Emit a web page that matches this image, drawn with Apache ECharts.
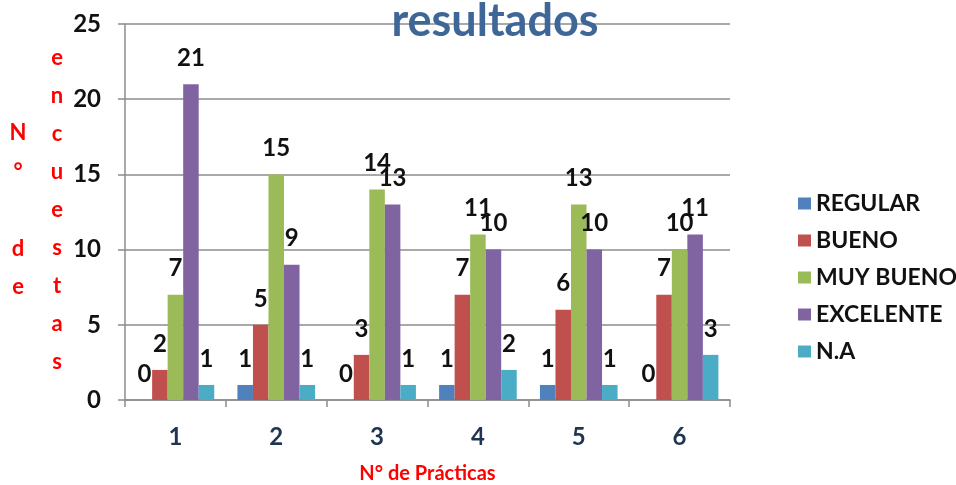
<!DOCTYPE html>
<html><head><meta charset="utf-8">
<script src="https://cdn.jsdelivr.net/npm/echarts@6/dist/echarts.min.js"></script>
<style>html,body{margin:0;padding:0;background:#fff}#c{width:956px;height:485px}</style>
</head><body><div id="c"></div>
<script>
const categories = ['1','2','3','4','5','6'];
const seriesNames = ['REGULAR','BUENO','MUY BUENO','EXCELENTE','N.A'];
const regular = [0,1,0,1,1,0];
const bueno = [2,5,3,7,6,7];
const muyBueno = [7,15,14,11,13,10];
const excelente = [21,9,13,10,10,11];
const na = [1,1,1,2,1,3];
const yTicks = [0,5,10,15,20,25];
const colors = ['#4f81bd','#c0504d','#9bbb59','#8064a2','#4bacc6'];
const FONT = 'Lato, "Open Sans", sans-serif';

const chart = echarts.init(document.getElementById('c'));
const dataSets = [regular,bueno,muyBueno,excelente,na];
chart.setOption({
  animation:false,
  color:colors,
  title:{text:'resultados',left:490,top:-6,textAlign:'center',
    textStyle:{fontFamily:FONT,fontSize:45,fontWeight:'bold',color:'#3e6696'}},
  grid:{left:125,right:226,top:24,bottom:85,outerBoundsMode:'none',containLabel:false},
  legend:{orient:'vertical',left:793,top:187,itemWidth:13,itemHeight:12,itemGap:14,
    icon:'rect',textStyle:{fontFamily:FONT,fontSize:23,fontWeight:'bold',color:'#111'}},
  xAxis:{type:'category',data:categories,
    name:'N° de Prácticas',nameLocation:'middle',nameGap:64,
    nameTextStyle:{fontFamily:FONT,fontSize:20,fontWeight:'bold',color:'#ff0000'},
    axisLine:{lineStyle:{color:'#8c8c8c',width:1.5}},
    axisTick:{show:true,length:7,lineStyle:{color:'#8c8c8c',width:1.5}},
    axisLabel:{margin:25,fontFamily:FONT,fontSize:24,fontWeight:'bold',color:'#1f3550'}},
  yAxis:{type:'value',min:yTicks[0],max:yTicks[yTicks.length-1],interval:5,
    axisLine:{show:true,lineStyle:{color:'#8c8c8c',width:1.5}},
    axisTick:{show:true,length:7,lineStyle:{color:'#8c8c8c',width:1.5}},
    splitLine:{lineStyle:{color:'#8c8c8c',width:1.5}},
    axisLabel:{margin:24,fontFamily:FONT,fontSize:24,fontWeight:'bold',color:'#111'}},
  graphic:[
    {type:'text',x:18,y:114,style:{text:'N\n°\n\nd\ne',fill:'#ff0000',
      font:'bold 22px '+FONT,lineHeight:38.5,align:'center',verticalAlign:'top'}},
    {type:'text',x:57,y:39,style:{text:'e\nn\nc\nu\ne\ns\nt\na\ns',fill:'#ff0000',
      font:'bold 22px '+FONT,lineHeight:38,align:'center',verticalAlign:'top'}}
  ],
  series:seriesNames.map((n,i)=>({
    name:n,type:'bar',data:dataSets[i],barGap:'0%',barCategoryGap:'23%',
    itemStyle:{color:colors[i]},
    label:{show:true,position:'top',distance:14,fontFamily:FONT,fontSize:24,fontWeight:'bold',color:'#111'}
  }))
});
</script></body></html>
